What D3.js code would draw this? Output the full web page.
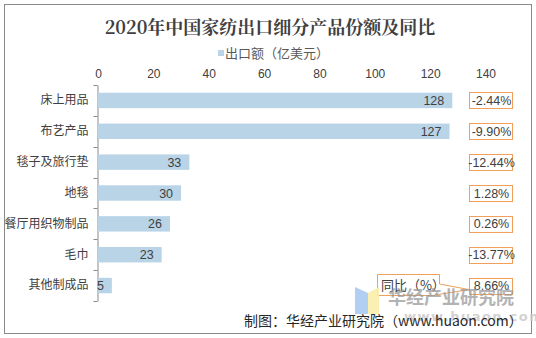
<!DOCTYPE html>
<html>
<head>
<meta charset="utf-8">
<script src="https://cdn.jsdelivr.net/npm/d3@7/dist/d3.min.js"></script>
<style>
  html, body { margin: 0; padding: 0; background: #fff; }
  svg { display: block; }
  text { font-family: "Liberation Sans", "Noto Sans CJK SC", sans-serif; }
</style>
</head>
<body>
<script>
// 2020 China home textile exports by product segment
const categories = ["床上用品", "布艺产品", "毯子及旅行垫", "地毯", "餐厅用织物制品", "毛巾", "其他制成品"];
const exportValues = [128, 127, 33, 30, 26, 23, 5];          // 亿美元
const yoyChange = [-2.44, -9.90, -12.44, 1.28, 0.26, -13.77, 8.66]; // %
const xTicks = [0, 20, 40, 60, 80, 100, 120, 140];

const W = 536, H = 338;
const cjk = '"Noto Sans CJK SC", sans-serif';
const textColor = "#404040";
const barColor = "#b9d4e6";
const boxColor = "#f0a05a";

const svg = d3.select("body").append("svg").attr("width", W).attr("height", H);

// outer frame
svg.append("rect").attr("x", 4.5).attr("y", 4.5).attr("width", 527).attr("height", 329)
  .attr("fill", "#fff").attr("stroke", "#8a8a8a").attr("stroke-width", 1);

// title
svg.append("text").attr("x", 270).attr("y", 34).attr("text-anchor", "middle")
  .style("font-family", '"Noto Serif CJK SC", "Noto Sans CJK SC", serif')
  .style("font-size", "18px").style("font-weight", "bold").attr("fill", "#404040")
  .text("2020年中国家纺出口细分产品份额及同比");

// legend
svg.append("rect").attr("x", 218).attr("y", 50).attr("width", 6).attr("height", 6).attr("fill", barColor);
svg.append("text").attr("x", 225).attr("y", 58).style("font-family", cjk)
  .style("font-size", "13px").attr("fill", "#595959").text("出口额（亿美元）");

const x = d3.scaleLinear().domain([0, 140]).range([98, 485.5]);
const y = d3.scaleBand().domain(categories).range([85, 301]).paddingInner(0.5).paddingOuter(0.25);

// value axis on top (labels only)
const xAxis = svg.append("g").attr("transform", "translate(0,78)")
  .call(d3.axisTop(x).tickValues(xTicks).tickSize(0).tickPadding(0));
xAxis.select(".domain").remove();
xAxis.selectAll("text").style("font-size", "12px").style("font-family", '"Liberation Sans", sans-serif')
  .attr("fill", textColor);

// category axis
const yAxis = svg.append("g").attr("transform", "translate(97.5,0)")
  .call(d3.axisLeft(y).tickSize(0).tickPadding(9));
yAxis.select(".domain").attr("stroke", "#8a8a8a");
yAxis.selectAll("text").style("font-size", "12px").style("font-family", cjk).attr("fill", textColor);
// tick marks at category boundaries
const step = y.step();
const bounds = d3.range(categories.length + 1).map(i => 85 + i * step);
svg.append("g").selectAll("line").data(bounds).join("line")
  .attr("x1", 93.5).attr("x2", 97.5)
  .attr("y1", d => Math.round(d) + 0.5).attr("y2", d => Math.round(d) + 0.5)
  .attr("stroke", "#8a8a8a");

// bars
svg.append("g").selectAll("rect").data(categories).join("rect")
  .attr("x", x(0))
  .attr("y", d => y(d))
  .attr("width", (d, i) => x(exportValues[i]) - x(0))
  .attr("height", y.bandwidth())
  .attr("fill", barColor);

// bar value labels
svg.append("g").selectAll("text").data(categories).join("text")
  .attr("x", (d, i) => x(exportValues[i]) - 8)
  .attr("y", d => y(d) + y.bandwidth() / 2 + 4.5)
  .attr("text-anchor", "end")
  .style("font-size", "12.5px").attr("fill", textColor)
  .text((d, i) => exportValues[i]);

// year-on-year boxes
const boxX = 469.5, boxW = 43, boxH = 16;
const yoyG = svg.append("g");
yoyG.selectAll("rect").data(categories).join("rect")
  .attr("x", boxX)
  .attr("y", d => Math.round(y(d) + y.bandwidth() / 2 - boxH / 2) + 0.5)
  .attr("width", boxW).attr("height", boxH)
  .attr("fill", "#fff").attr("stroke", boxColor).attr("stroke-width", 1);
yoyG.selectAll("text").data(categories).join("text")
  .attr("x", boxX + boxW / 2 + 0.5)
  .attr("y", d => y(d) + y.bandwidth() / 2 + 4.5)
  .attr("text-anchor", "middle")
  .style("font-size", "12.5px").attr("fill", textColor)
  .text((d, i) => yoyChange[i].toFixed(2) + "%");

// callout naming the right-hand series
const cy = y(categories[categories.length - 1]) + y.bandwidth() / 2;
svg.append("path")
  .attr("d", `M377.5,274.5 H439.5 V284 L469,${cy + 4} L432,295.5 H377.5 Z`)
  .attr("fill", "#fff").attr("stroke", boxColor).attr("stroke-width", 1);
svg.append("text").attr("x", 381).attr("y", 290).style("font-family", cjk)
  .style("font-size", "13px").attr("fill", textColor).text("同比（%）");

// brand mark
svg.append("path").attr("d", "M355,287 L368,293 L368,314 L355,314 Z").attr("fill", "#a9c9f2").attr("opacity", 0.9);
svg.append("path").attr("d", "M368,293 L379,287 L379,314 L368,314 Z").attr("fill", "#fbeeaa").attr("opacity", 0.9);
svg.append("text").attr("x", 388).attr("y", 304).style("font-family", cjk)
  .style("font-size", "18px").style("font-weight", "bold").attr("fill", "#9a9a9a").attr("opacity", 0.75)
  .text("华经产业研究院");
svg.append("text").attr("x", 404).attr("y", 321).style("font-family", '"DejaVu Sans", sans-serif')
  .style("font-size", "13px").style("font-weight", "bold").style("letter-spacing", "1.5px")
  .attr("fill", "#c8c8c8").attr("opacity", 0.8).text("www.huaon.com");

// source note
svg.append("text").attr("x", 244).attr("y", 326).style("font-family", cjk)
  .style("font-size", "14px").attr("fill", "#262626")
  .text("制图：华经产业研究院（www.huaon.com）");
</script>
</body>
</html>
